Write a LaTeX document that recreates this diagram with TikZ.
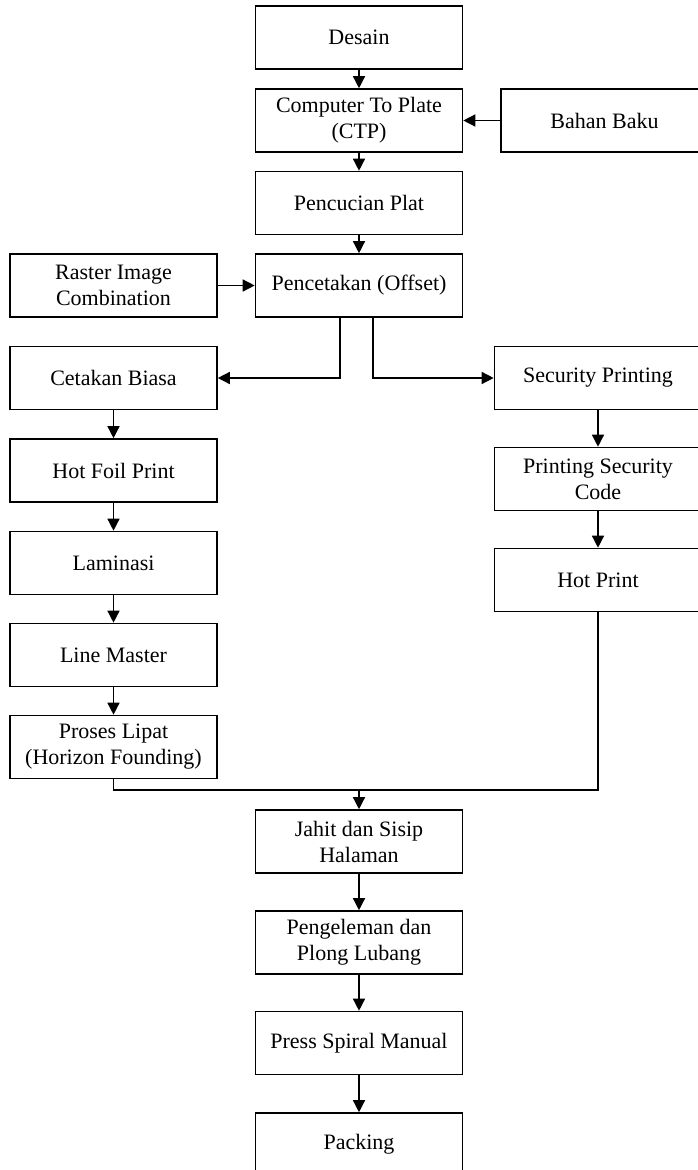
\documentclass[tikz,border=0pt]{standalone}
\usepackage{fontspec}
\setmainfont{Liberation Serif}
\usetikzlibrary{arrows.meta}
\begin{document}
\begin{tikzpicture}[x=1pt,y=-1pt,
  box/.style={draw=black,line width=1.6pt,minimum width=207pt,minimum height=63pt,inner sep=0pt,align=center,font=\fontsize{22}{26}\selectfont},
  conn/.style={line width=1.4pt,-{Triangle[length=12pt,width=12pt]}},
  plain/.style={line width=1.4pt}]
\useasboundingbox (0,0) rectangle (698,1170);
\node[box] (desain) at (359,37.5) {Desain};
\node[box] (ctp) at (359,120.5) {Computer To Plate\\(CTP)};
\node[box] (bahan) at (604.5,120.5) {Bahan Baku};
\node[box] (cuci) at (359,203) {Pencucian Plat};
\node[box] (raster) at (113.5,285.5) {Raster Image\\Combination};
\node[box] (cetak) at (359,285.5) {Pencetakan (Offset)};
\node[box] (biasa) at (113.5,378) {Cetakan Biasa};
\node[box] (sec) at (598,378) {Security Printing};
\node[box] (foil) at (113.5,470.5) {Hot Foil Print};
\node[box] (psc) at (598,479) {Printing Security\\Code};
\node[box] (lam) at (113.5,563) {Laminasi};
\node[box] (hotp) at (598,580) {Hot Print};
\node[box] (line) at (113.5,655) {Line Master};
\node[box] (lipat) at (113.5,747) {Proses Lipat\\(Horizon Founding)};
\node[box] (jahit) at (359,841.5) {Jahit dan Sisip\\Halaman};
\node[box] (lem) at (359,942.5) {Pengeleman dan\\Plong Lubang};
\node[box] (press) at (359,1043) {Press Spiral Manual};
\node[box] (pack) at (359,1144.5) {Packing};
\coordinate (m) at (359,790);
\draw[conn] (desain) -- (ctp);
\draw[conn] (bahan) -- (ctp);
\draw[conn] (ctp) -- (cuci);
\draw[conn] (cuci) -- (cetak);
\draw[conn] (raster) -- (cetak);
\draw[conn] ([xshift=-19pt]cetak.south) |- (biasa.east);
\draw[conn] ([xshift=14pt]cetak.south) |- (sec.west);
\draw[conn] (biasa) -- (foil);
\draw[conn] (foil) -- (lam);
\draw[conn] (lam) -- (line);
\draw[conn] (line) -- (lipat);
\draw[conn] (sec) -- (psc);
\draw[conn] (psc) -- (hotp);
\draw[plain] (lipat.south) |- (m) -| (hotp.south);
\draw[conn] (m) -- (jahit);
\draw[conn] (jahit) -- (lem);
\draw[conn] (lem) -- (press);
\draw[conn] (press) -- (pack);
\end{tikzpicture}
\end{document}
